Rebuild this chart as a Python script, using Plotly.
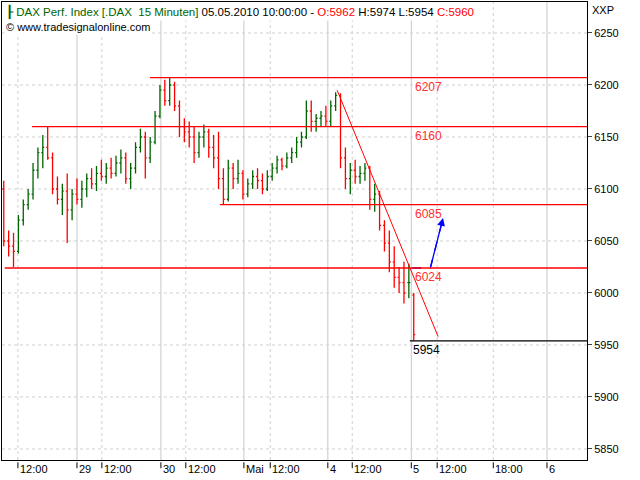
import plotly.graph_objects as go

idx = list(range(2, 87))
opens = [6100,6050,6045,6040,6070,6085,6095,6118,6135,6140,6130,6100,6090,6098,6080,6095,6090,6100,6110,6105,6115,6112,6120,6115,6125,6130,6110,6120,6140,6150,6130,6145,6170,6195,6185,6200,6180,6160,6155,6150,6135,6150,6155,6140,6130,6110,6090,6120,6110,6115,6095,6105,6112,6108,6100,6112,6120,6128,6122,6130,6135,6145,6150,6175,6165,6168,6170,6165,6180,6190,6130,6110,6118,6112,6115,6120,6090,6095,6065,6048,6030,6015,6010,6010,5998]
highs = [6108,6060,6058,6075,6090,6100,6125,6140,6152,6160,6135,6112,6105,6115,6100,6110,6108,6115,6120,6122,6128,6125,6130,6132,6138,6135,6125,6145,6158,6155,6150,6175,6200,6205,6207,6203,6185,6168,6165,6160,6155,6162,6158,6152,6155,6120,6128,6125,6128,6118,6110,6118,6120,6115,6118,6125,6132,6130,6135,6140,6150,6155,6185,6185,6172,6175,6180,6185,6193,6192,6140,6125,6128,6122,6125,6122,6105,6098,6070,6060,6045,6025,6030,6028,6000]
lows = [6045,6035,6025,6038,6065,6080,6090,6110,6120,6128,6095,6085,6075,6048,6070,6085,6082,6092,6100,6098,6108,6105,6110,6112,6115,6105,6100,6115,6135,6110,6125,6143,6168,6180,6180,6175,6150,6145,6140,6125,6130,6140,6130,6120,6100,6085,6088,6100,6105,6090,6092,6100,6100,6095,6098,6108,6115,6118,6120,6125,6130,6140,6148,6155,6155,6160,6160,6160,6175,6120,6100,6095,6105,6105,6108,6080,6078,6060,6040,6020,6005,6000,5990,5995,5954]
closes = [6050,6045,6040,6070,6085,6095,6118,6135,6140,6130,6100,6090,6098,6080,6095,6090,6100,6110,6105,6115,6112,6120,6115,6125,6130,6110,6120,6140,6150,6130,6145,6170,6195,6185,6200,6180,6160,6155,6150,6135,6150,6155,6140,6130,6110,6090,6120,6110,6115,6095,6105,6112,6108,6100,6112,6120,6128,6122,6130,6135,6145,6150,6175,6165,6168,6170,6165,6180,6190,6130,6110,6118,6112,6115,6120,6090,6095,6065,6048,6030,6015,6010,6000,6010,5960]

levels = [6207, 6160, 6085, 6024]
level_start = [31.97, 7.8, 46.3, 2.2]
support = 5954
support_start = 85.2
trend_x = [70.3, 91.0]
trend_y = [6195, 5958]
arrow_x = [85.7, 89.4, 92.0]
arrow_y = [6024, 6024, 6072]

xt_vals = [4.9, 17.0, 22.1, 34.2, 39.3, 51.2, 56.6, 68.4, 73.4, 85.5, 90.8, 102.3, 113.3]
xt_text = ["12:00", "29", "12:00", "30", "12:00", "Mai", "12:00", "4", "12:00", "5", "12:00", "18:00", "6"]
day_lines = [17.0, 34.2, 51.2, 68.4, 85.5, 113.3]
noon_lines = [4.9, 22.1, 39.3, 56.6, 73.4, 90.8, 102.3]
yt = [5850, 5900, 5950, 6000, 6050, 6100, 6150, 6200, 6250]

XMAX = 121.5
fig = go.Figure()
fig.add_trace(go.Ohlc(x=idx, open=opens, high=highs, low=lows, close=closes,
                      increasing_line_color="#006400", decreasing_line_color="#ff0000",
                      line_width=1.3, tickwidth=0.3, showlegend=False, hoverinfo="skip"))
shapes = []
for v in day_lines:
    shapes.append(dict(type="line", x0=v, x1=v, y0=0, y1=1, yref="paper", line=dict(color="#c8c8c8", width=1), layer="below"))
for v in noon_lines:
    shapes.append(dict(type="line", x0=v, x1=v, y0=0, y1=1, yref="paper", line=dict(color="#d0d0d0", width=1, dash="dot"), layer="below"))
for v in yt:
    shapes.append(dict(type="line", x0=0, x1=1, xref="paper", y0=v, y1=v, line=dict(color="#d0d0d0", width=1, dash="dot"), layer="below"))
for lv, s in zip(levels, level_start):
    shapes.append(dict(type="line", x0=s, x1=XMAX, y0=lv, y1=lv, line=dict(color="#ff0000", width=1.3)))
shapes.append(dict(type="line", x0=support_start, x1=XMAX, y0=support, y1=support, line=dict(color="#000000", width=1.3)))
fig.add_trace(go.Scatter(x=trend_x, y=trend_y, mode="lines", line=dict(color="#ff0000", width=1), showlegend=False, hoverinfo="skip"))
fig.add_trace(go.Scatter(x=arrow_x, y=arrow_y, mode="lines", line=dict(color="#0000ff", width=1.3, dash="dash"), showlegend=False, hoverinfo="skip"))

ann = []
ann.append(dict(x=arrow_x[-1], y=arrow_y[-1], ax=arrow_x[-2], ay=arrow_y[-2], xref="x", yref="y", axref="x", ayref="y",
                showarrow=True, arrowhead=2, arrowsize=1.2, arrowwidth=1.3, arrowcolor="#0000ff", text=""))
for lv in levels:
    ann.append(dict(x=85.9, y=lv, text=str(lv), showarrow=False, yanchor="top", xanchor="left", yshift=0,
                    font=dict(color="#ff3030", size=12)))
ann.append(dict(x=85.5, y=support, text=str(support), showarrow=False, yanchor="top", xanchor="left", yshift=0,
                font=dict(color="#000000", size=12)))
for v, t in zip(xt_vals, xt_text):
    ann.append(dict(x=v, y=0, yref="paper", text=t, showarrow=False, xanchor="left", yanchor="top", xshift=0, yshift=-1,
                    font=dict(size=11, color="#000")))
    shapes.append(dict(type="line", x0=v, x1=v, y0=-0.005, y1=-0.018, yref="paper", line=dict(color="#000", width=1)))
ann.append(dict(x=0.003, y=1.0, xref="paper", yref="paper", xanchor="left", yanchor="top", showarrow=False,
                text="<span style='color:#006400'>┠ DAX Perf. Index [.DAX  15 Minuten]</span> 05.05.2010 10:00:00 - <span style='color:#ff0000'>O:5962</span> H:5974 L:5954 <span style='color:#ff0000'>C:5960</span>",
                font=dict(size=11.5, color="#000"), bgcolor="white"))
ann.append(dict(x=0.003, y=0.962, xref="paper", yref="paper", xanchor="left", yanchor="top", showarrow=False,
                text="© www.tradesignalonline.com", font=dict(size=11, color="#000"), bgcolor="white"))
ann.append(dict(x=1.005, y=1.0, xref="paper", yref="paper", xanchor="left", yanchor="top", showarrow=False,
                text="XXP", font=dict(size=11, color="#000")))

fig.update_layout(width=640, height=480, margin=dict(l=2, r=53, t=2, b=20, autoexpand=False),
                  paper_bgcolor="white", plot_bgcolor="white",
                  font=dict(family="Liberation Sans, Arial", size=11, color="#000"),
                  shapes=shapes, annotations=ann, showlegend=False,
                  xaxis=dict(range=[1.64, XMAX], showgrid=False, showticklabels=False, rangeslider=dict(visible=False),
                             showline=True, linecolor="#000", mirror=True, zeroline=False, automargin=False),
                  yaxis=dict(range=[5839.4, 6279.8], side="right", tickvals=yt, ticks="outside", ticklen=4,
                             showgrid=False, showline=True, linecolor="#000", mirror=True, zeroline=False, automargin=False))
fig.write_html("out.html", config={"displayModeBar": False},
               post_script="document.body.style.margin='0';document.body.style.overflow='hidden';")
